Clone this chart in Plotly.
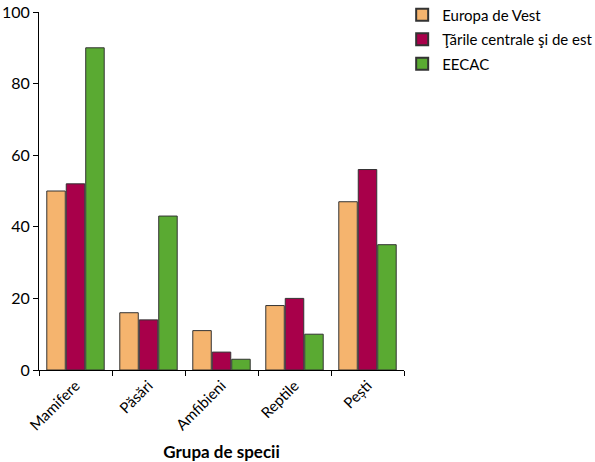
import plotly.graph_objects as go

categories = ["Mamifere", "Păsări", "Amfibieni", "Reptile", "Pești"]
series_names = ["Europa de Vest", "Ţările centrale şi de est", "EECAC"]
europa_vest = [50, 16, 11, 18, 47]
tari_centrale = [52, 14, 5, 20, 56]
eecac = [90, 43, 3, 10, 35]
colors = ["#F5B46E", "#A8004A", "#5AAA32"]

fig = go.Figure()
for i, (name, vals, col) in enumerate(zip(series_names, [europa_vest, tari_centrale, eecac], colors)):
    fig.add_trace(go.Bar(x=categories, y=vals, name=name, legendgroup=f"g{i}",
                         marker=dict(color=col, line=dict(color="#333333", width=1))))

font_family = "Lato, Noto Sans, DejaVu Sans, sans-serif"
fig.update_layout(
    width=595, height=462,
    margin=dict(l=39, r=191, t=12, b=92, autoexpand=False),
    paper_bgcolor="white", plot_bgcolor="white",
    barmode="group", bargap=0.2, bargroupgap=0.05,
    font=dict(family=font_family, size=14, color="black"),
    showlegend=True,
    legend=dict(x=0.995, y=1.038, xanchor="left", yanchor="top",
                font=dict(size=15), itemsizing="constant", tracegroupgap=2,
                bgcolor="rgba(0,0,0,0)"),
    xaxis=dict(showline=True, linecolor="black", linewidth=1, ticks="outside",
               tickson="boundaries", ticklen=5, tickcolor="black",
               tickangle=-45, showgrid=False, automargin=False,
               tickfont=dict(size=15),
               title=dict(text="<b>Grupa de specii</b>", font=dict(size=17), standoff=22)),
    yaxis=dict(range=[0, 100], dtick=20, showline=True, linecolor="black", linewidth=1,
               ticks="outside", ticklen=5, tickcolor="black", showgrid=False,
               zeroline=False, tickfont=dict(size=16), automargin=False),
)
fig.write_html("out.html", config={"displayModeBar": False},
               post_script="document.body.style.margin='0';")
